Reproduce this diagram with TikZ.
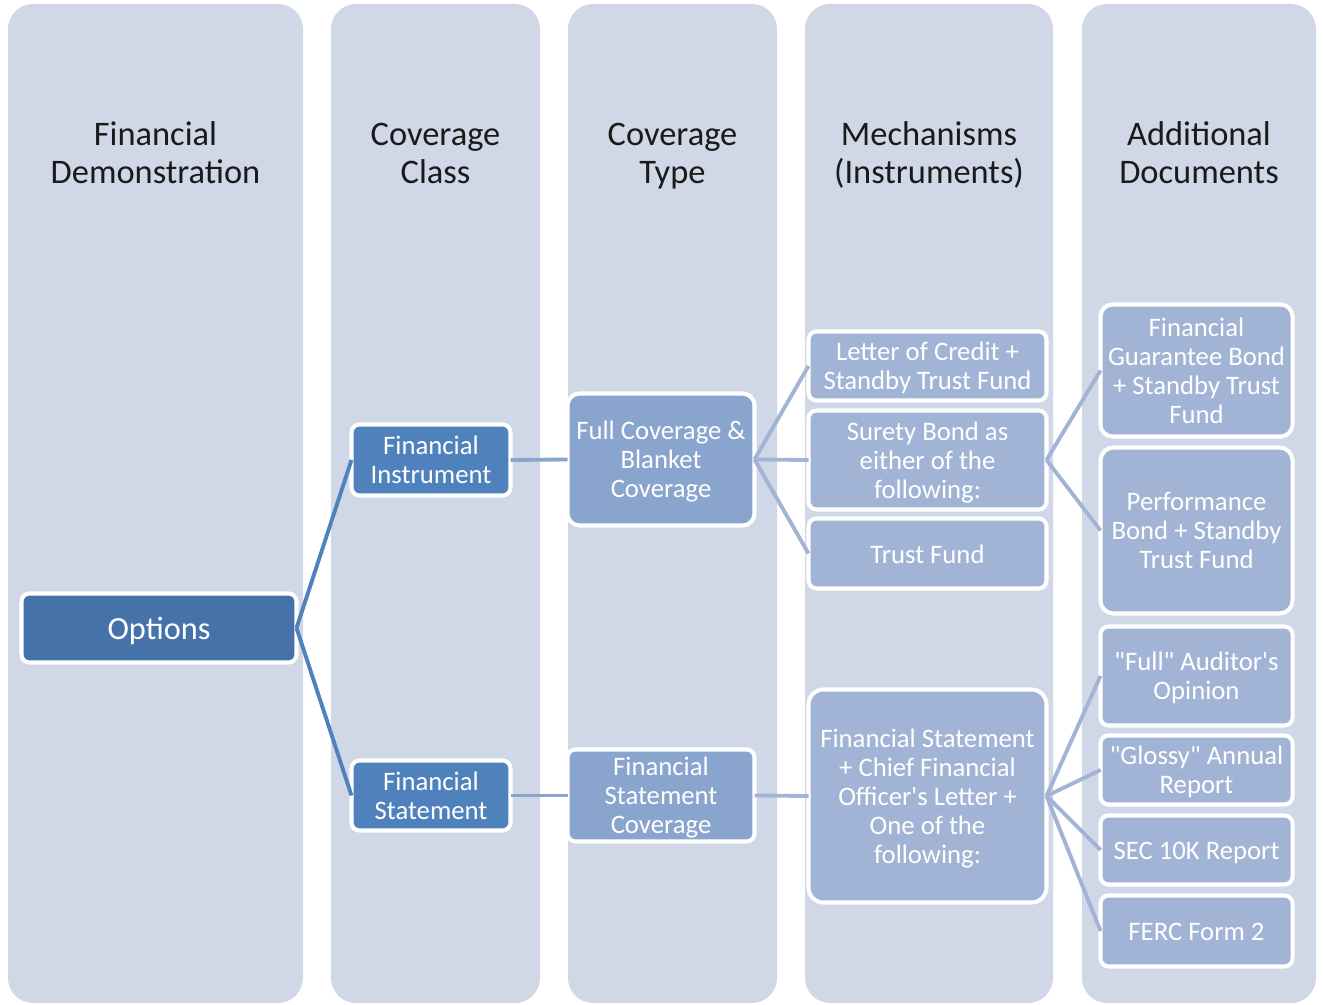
\documentclass[tikz,border=0pt]{standalone}
\usepackage{fontspec}
\setmainfont{Carlito}
\usepackage{tikz}

\definecolor{colbg}{HTML}{D0D8E8}
\definecolor{lvlone}{HTML}{4672AA}
\definecolor{lvltwo}{HTML}{4F81BD}
\definecolor{lvlthree}{HTML}{8AA5CD}
\definecolor{lvlfour}{HTML}{A2B4D5}
\definecolor{headtext}{HTML}{1A1A1A}

% strut that pushes a one-line text a little lower in its node
\newcommand{\topstrut}{\rule{0pt}{\dimexpr\ht\strutbox+0.16cm\relax}}

\begin{document}
\begin{tikzpicture}[
  column/.style={fill=colbg, rounded corners=0.5cm},
  header/.style={text=headtext, align=center, font=\fontsize{19.6}{21.6}\selectfont},
  box/.style={draw=white, line width=2.3pt, rounded corners=0.16cm, text=white,
    align=center, inner sep=0pt, outer sep=0pt, font=\fontsize{15.2}{16.5}\selectfont},
  oneline/.style={execute at begin node=\topstrut, execute at end node=\strut},
  optbox/.style={box, oneline, fill=lvlone, minimum width=5.50cm, minimum height=1.38cm,
    font=\fontsize{18.4}{21}\selectfont},
  classbox/.style={box, fill=lvltwo, minimum width=3.18cm},
  typebox/.style={box, fill=lvlthree, minimum width=3.74cm, rounded corners=0.24cm},
  mechbox/.style={box, fill=lvlfour, minimum width=4.76cm},
  docbox/.style={box, fill=lvlfour, minimum width=3.84cm},
  link/.style={line width=2.2pt},
]
\useasboundingbox (0,0) rectangle (26.48,20.1);

% columns
\fill[column] (0.16,0.04) rectangle (6.06,20.02);
\fill[column] (6.62,0.04) rectangle (10.80,20.02);
\fill[column] (11.36,0.04) rectangle (15.54,20.02);
\fill[column] (16.10,0.04) rectangle (21.06,20.02);
\fill[column] (21.64,0.04) rectangle (26.32,20.02);

% column headers
\node[header] (hDemo) at (3.11,17.04) {Financial\\Demonstration};
\node[header] (hClass) at (8.71,17.04) {Coverage\\Class};
\node[header] (hType) at (13.45,17.04) {Coverage\\\smash{Type}};
\node[header] (hMech) at (18.58,17.04) {Mechanisms\\\smash{(Instruments)}};
\node[header] (hDocs) at (23.98,17.04) {Additional\\Documents};

% boxes
\node[optbox] (opt) at (3.18,7.54) {Options};

\node[classbox, minimum height=1.42cm] (finInst) at (8.62,10.90) {Financial\\Instrument};
\node[classbox, minimum height=1.40cm] (finStmt) at (8.62,4.19) {Financial\\Statement};

\node[typebox, minimum height=2.64cm] (fullCov) at (13.22,10.91) {Full Coverage \&\\Blanket\\\smash{Coverage}};
\node[typebox, minimum height=1.84cm, rounded corners=0.16cm] (stmtCov) at (13.22,4.19) {Financial\\Statement\\\smash{Coverage}};

\node[mechbox, minimum height=1.38cm] (loc) at (18.55,12.78) {Letter of Credit +\\\smash{Standby Trust Fund}};
\node[mechbox, minimum height=1.98cm] (surety) at (18.55,10.90) {Surety Bond as\\either of the\\\smash{following:}};
\node[mechbox, oneline, minimum height=1.40cm] (trust) at (18.55,9.03) {Trust Fund};
\node[mechbox, minimum height=4.26cm, rounded corners=0.3cm] (stmtCfo) at (18.55,4.18) {Financial Statement\\+ Chief Financial\\Officer\textquotesingle s Letter +\\One of the\\\smash{following:}};

\node[docbox, minimum height=2.64cm, rounded corners=0.24cm] (guarBond) at (23.93,12.69) {Financial\\Guarantee Bond\\+ Standby Trust\\Fund};
\node[docbox, minimum height=3.32cm, rounded corners=0.26cm] (perfBond) at (23.93,9.49) {Performance\\Bond + Standby\\Trust Fund};
\node[docbox, minimum height=1.98cm] (auditor) at (23.93,6.58) {\textquotedbl Full\textquotedbl{} Auditor\textquotesingle s\\\smash{Opinion}};
\node[docbox, minimum height=1.38cm] (glossy) at (23.93,4.70) {\textquotedbl Glossy\textquotedbl{} Annual\\\smash{Report}};
\node[docbox, oneline, minimum height=1.38cm] (sec) at (23.93,3.10) {SEC 10K Report};
\node[docbox, oneline, minimum height=1.42cm] (ferc) at (23.93,1.48) {FERC Form 2};

% connectors
\draw[link, lvltwo] (opt.east) -- (finInst.west);
\draw[link, lvltwo] (opt.east) -- (finStmt.west);
\draw[link, lvlthree] (finInst.east) -- (fullCov.west);
\draw[link, lvlthree] (finStmt.east) -- (stmtCov.west);
\foreach \m in {loc,surety,trust}
  \draw[link, lvlfour] (fullCov.east) -- (\m.west);
\draw[link, lvlfour] (stmtCov.east) -- (stmtCfo.west);
\foreach \d in {guarBond,perfBond}
  \draw[link, lvlfour] (surety.east) -- (\d.west);
\foreach \d in {auditor,glossy,sec,ferc}
  \draw[link, lvlfour] (stmtCfo.east) -- (\d.west);
\end{tikzpicture}
\end{document}
